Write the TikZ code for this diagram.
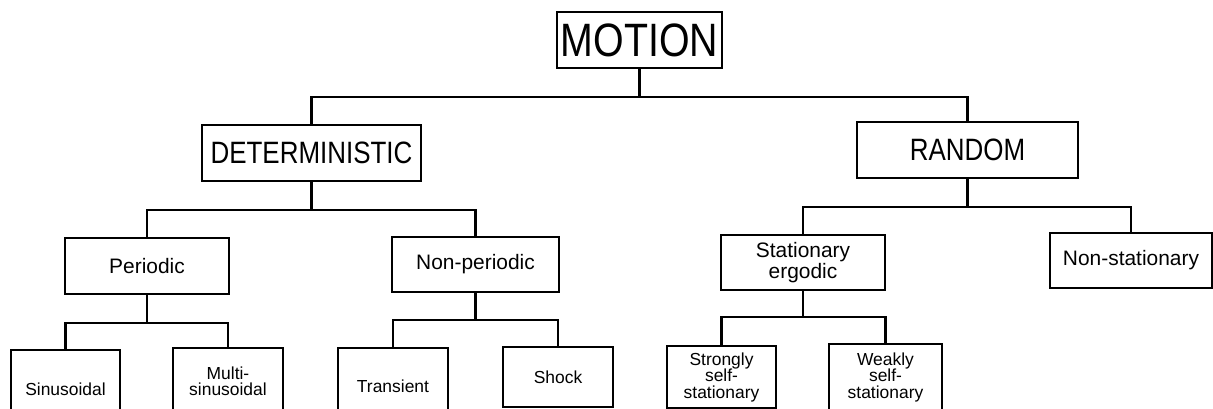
\documentclass[tikz,border=0pt]{standalone}
\usepackage{fontspec}
\setmainfont{Liberation Sans}
\newfontfamily\capsfont[FakeStretch=0.84]{Liberation Sans}

\begin{document}
\begin{tikzpicture}[x=1bp,y=-1bp,
    box/.style={draw,line width=2.2bp,inner sep=2bp,align=center},
    head/.style={box,font=\capsfont\fontsize{31}{31}\selectfont,minimum height=56bp},
    mid/.style={box,font=\fontsize{21}{19}\selectfont,minimum height=55bp},
    leaf/.style={box,anchor=north,font=\fontsize{17.5}{16.5}\selectfont,minimum width=110bp},
    link/.style={line width=2.2bp}]
    \useasboundingbox (0,0) rectangle (1213,408);
    \clip (0,0) rectangle (1213,408);

    % top
    \node[box,font=\capsfont\fontsize{47}{47}\selectfont,minimum width=165bp,minimum height=56bp,inner sep=1bp] (motion) at (639.5,40) {MOTION};
    \node[head,minimum width=219bp] (det) at (311.5,153) {DETERMINISTIC};
    \node[head,minimum width=221bp] (rand) at (967.5,150) {RANDOM};

    % second level
    \node[mid,minimum width=164bp,minimum height=56bp] (per) at (147,266) {Periodic};
    \node[mid,minimum width=167bp] (nper) at (475.5,264.5) {Non-periodic};
    \node[mid,minimum width=164bp] (stat) at (803,262.5) {Stationary\\ergodic};
    \node[mid,minimum width=162bp] (nstat) at (1131,260.5) {Non-stationary};

    % bottom level (cut off by the frame)
    \node[leaf,minimum width=109bp,minimum height=78bp] (sin) at (65.5,349) {Sinusoidal};
    \node[leaf,minimum height=66bp] (msin) at (228,347) {Multi-\\sinusoidal};
    \node[leaf,minimum height=76bp] (trans) at (393,347) {Transient};
    \node[leaf,minimum height=60bp] (shock) at (558,346) {Shock};
    \node[leaf,minimum width=109bp,minimum height=62bp] (sss) at (721.5,345) {Strongly\\self-\\stationary};
    \node[leaf,minimum width=113bp,minimum height=66bp] (wss) at (885.5,343) {Weakly\\self-\\stationary};

    % connectors
    \path (motion.south) ++(0,28) coordinate (b0);
    \draw[link] (motion.south) -- (b0);
    \draw[link] (det.north) |- (b0) -| (rand.north);

    \path (det.south) ++(0,28) coordinate (b1);
    \draw[link] (det.south) -- (b1);
    \draw[link] (per.north) |- (b1) -| (nper.north);

    \path (rand.south) ++(0,28) coordinate (b2);
    \draw[link] (rand.south) -- (b2);
    \draw[link] (stat.north) |- (b2) -| (nstat.north);

    \path (per.south) ++(0,28) coordinate (b3);
    \draw[link] (per.south) -- (b3);
    \draw[link] (sin.north) |- (b3) -| (msin.north);

    \path (nper.south) ++(0,27) coordinate (b4);
    \draw[link] (nper.south) -- (b4);
    \draw[link] (trans.north) |- (b4) -| (shock.north);

    \path (stat.south) ++(0,26) coordinate (b5);
    \draw[link] (stat.south) -- (b5);
    \draw[link] (sss.north) |- (b5) -| (wss.north);
\end{tikzpicture}
\end{document}
